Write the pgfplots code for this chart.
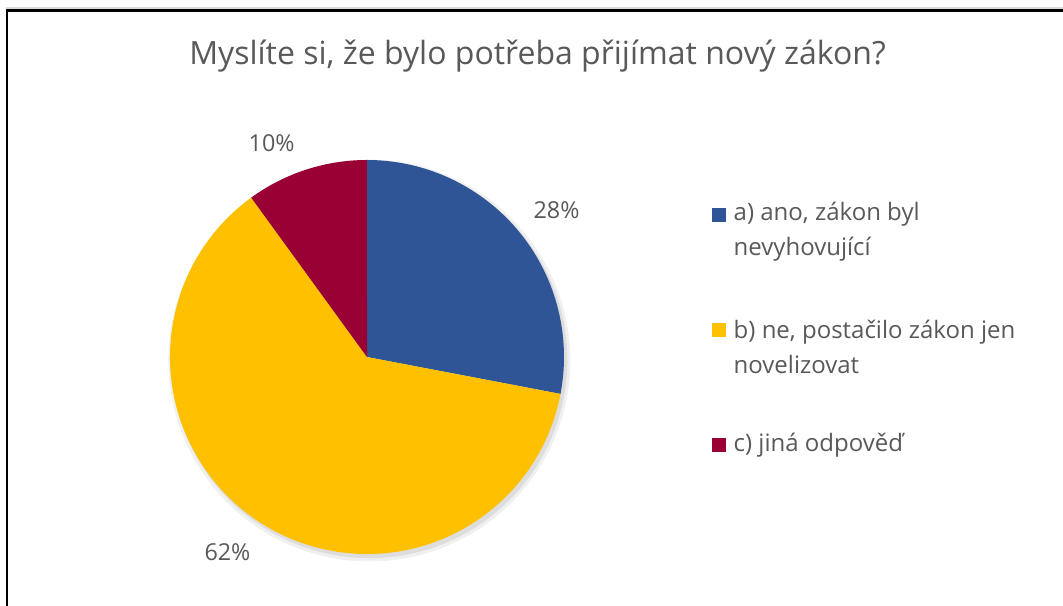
\documentclass[border=0pt]{standalone}
\usepackage{pgfplots}
\usepackage{pgfplotstable}
\pgfplotsset{compat=1.18}
\usepackage{fontspec}
\setmainfont{Open Sans}
\definecolor{cA}{HTML}{2F5597}
\definecolor{cB}{HTML}{FFC000}
\definecolor{cC}{HTML}{990033}
\definecolor{txt}{HTML}{595959}

\pgfplotstableread{
key value
a 28
b 62
c 10
}\piedata

\begin{document}
\begin{tikzpicture}[x=0.75pt,y=0.75pt]
\pgfplotstablegetelem{0}{value}\of\piedata \let\va\pgfplotsretval
\pgfplotstablegetelem{1}{value}\of\piedata \let\vb\pgfplotsretval
\pgfplotstablegetelem{2}{value}\of\piedata \let\vc\pgfplotsretval
\pgfmathsetmacro{\tot}{\va+\vb+\vc}
\pgfmathsetmacro{\aA}{90-360*(\va/\tot)}
\pgfmathsetmacro{\aB}{\aA-360*(\vb/\tot)}
\pgfmathsetmacro{\aC}{\aB-360*(\vc/\tot)}
\pgfmathsetmacro{\mA}{(90+\aA)/2}
\pgfmathsetmacro{\mB}{(\aA+\aB)/2}
\pgfmathsetmacro{\mC}{(\aB+\aC)/2}
\pgfmathsetmacro{\xA}{cos(\aA)}\pgfmathsetmacro{\yA}{sin(\aA)}
\pgfmathsetmacro{\xB}{cos(\aB)}\pgfmathsetmacro{\yB}{sin(\aB)}
\pgfmathsetmacro{\lxA}{1.21*cos(\mA)+0.03}\pgfmathsetmacro{\lyA}{1.21*sin(\mA)-0.025}
\pgfmathsetmacro{\lxB}{1.21*cos(\mB)-0.06}\pgfmathsetmacro{\lyB}{1.21*sin(\mB)+0.03}
\pgfmathsetmacro{\lxC}{1.19*cos(\mC+6)}\pgfmathsetmacro{\lyC}{1.19*sin(\mC+6)}
\fill[white] (0,0) rectangle (1063,606);
\draw[gray!30,line width=1.5pt] (6,597.5) -- (1063,597.5);
\draw[black,line width=1.6pt] (7,0) -- (7,595.5) -- (1063,595.5);
\node[txt,font=\fontsize{24}{28}\selectfont] at (537.5,550) {Myslíte si, že bylo potřeba přijímat nový zákon?};
\begin{axis}[
  at={(275.25pt,186.75pt)}, anchor=origin,
  x=147.75pt, y=147.75pt,
  xmin=-1.3, xmax=1.3, ymin=-1.3, ymax=1.3,
  hide axis, clip=false,
]
% soft shadow
\fill[black,opacity=0.06] (axis cs:0.012,-0.018) circle[radius=1.02];
\fill[black,opacity=0.08] (axis cs:0.012,-0.016) circle[radius=1.005];
\fill[cA] (axis cs:0,0) -- (axis cs:0,1) arc[start angle=90,end angle=\aA,radius=147.75pt] -- cycle;
\fill[cB] (axis cs:0,0) -- (axis cs:\xA,\yA) arc[start angle=\aA,end angle=\aB,radius=147.75pt] -- cycle;
\fill[cC] (axis cs:0,0) -- (axis cs:\xB,\yB) arc[start angle=\aB,end angle=\aC,radius=147.75pt] -- cycle;
\node[txt,font=\fontsize{17.5}{20}\selectfont] at (axis cs:\lxA,\lyA) {\va\%};
\node[txt,font=\fontsize{17.5}{20}\selectfont] at (axis cs:\lxB,\lyB) {\vb\%};
\node[txt,font=\fontsize{17.5}{20}\selectfont] at (axis cs:\lxC,\lyC) {\vc\%};
\end{axis}
% legend
\fill[cA] (712,384) rectangle (726,398);
\fill[cB] (712,269) rectangle (726,283);
\fill[cC] (712,154) rectangle (726,168);
\node[txt,anchor=west,align=left,font=\fontsize{18}{26.25}\selectfont] at (729,374) {a) ano, zákon byl\\nevyhovující};
\node[txt,anchor=west,align=left,font=\fontsize{18}{26.25}\selectfont] at (729,259) {b) ne, postačilo zákon jen\\novelizovat};
\node[txt,anchor=west,align=left,font=\fontsize{18}{26.25}\selectfont] at (729,161) {c) jiná odpověď};
\pgfresetboundingbox
\path[use as bounding box] (0,0) rectangle (1063,606);
\end{tikzpicture}
\end{document}
